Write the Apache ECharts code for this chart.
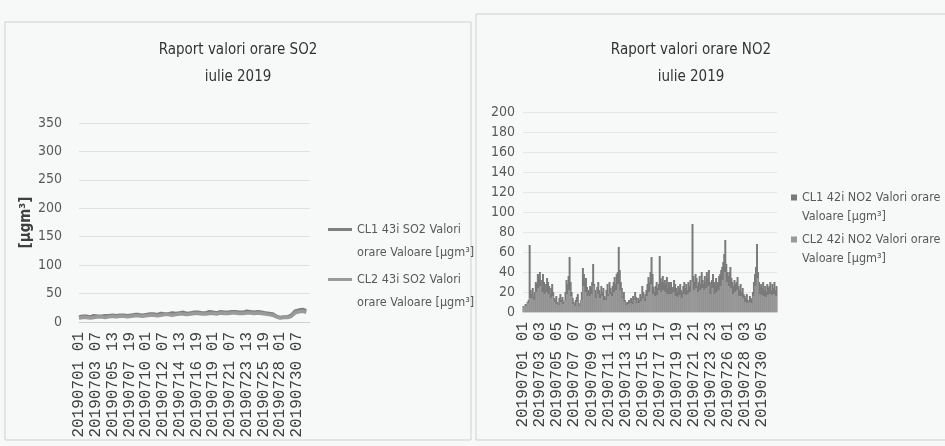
<!DOCTYPE html>
<html>
<head>
<meta charset="utf-8">
<script src="https://cdn.jsdelivr.net/npm/echarts@6/dist/echarts.min.js"></script>
<style>
    html, body { margin: 0; padding: 0; background: #f7f8f8; }
    #main { width: 945px; height: 446px; }
</style>
</head>
<body>
<div id="main"></div>
<script>
// tick labels shown on the two x axes
var so2Ticks = ['20190701 01', '20190703 07', '20190705 13', '20190707 19', '20190710 01', '20190712 07', '20190714 13',
    '20190716 19', '20190719 01', '20190721 07', '20190723 13', '20190725 19', '20190728 01', '20190730 07'];
var no2Ticks = ['20190701 01', '20190703 03', '20190705 05', '20190707 07', '20190709 09', '20190711 11', '20190713 13',
    '20190715 15', '20190717 17', '20190719 19', '20190721 21', '20190723 23', '20190726 01', '20190728 03', '20190730 05'];

// SO2, one value every 12 hours
var so2Cl1 = [9, 10, 10, 9, 11, 10, 10, 11, 11, 12,
    11, 12, 12, 11, 12, 13, 13, 12, 13, 14,
    14, 13, 15, 14, 14, 16, 15, 16, 17, 15,
    16, 17, 17, 16, 16, 18, 17, 16, 18, 17,
    17, 18, 18, 17, 17, 19, 18, 17, 18, 17,
    16, 15, 14, 10, 8, 9, 9, 12, 19, 21, 22, 20];
var so2Cl2 = [7, 8, 8, 7, 8, 9, 9, 8, 9, 10,
    9, 10, 10, 9, 10, 11, 11, 10, 11, 12,
    12, 11, 12, 13, 13, 12, 13, 14, 14, 13,
    14, 15, 15, 14, 14, 15, 15, 14, 16, 15,
    15, 16, 16, 15, 15, 16, 16, 15, 16, 15,
    14, 13, 12, 9, 7, 8, 8, 10, 16, 18, 19, 17];

// NO2 CL1, one value every 3 hours
var no2Cl1 = [
    6, 5, 8, 7, 10, 12, 67, 22,
    18, 24, 15, 20, 30, 28, 38, 36,
    40, 32, 25, 38, 30, 22, 28, 34,
    30, 26, 18, 24, 28, 20, 14, 12,
    16, 10, 8, 14, 18, 12, 15, 10,
    12, 20, 32, 28, 36, 55, 30, 20,
    14, 10, 8, 12, 15, 18, 9, 7,
    12, 20, 44, 38, 30, 34, 25, 22,
    20, 26, 24, 30, 48, 28, 22, 18,
    25, 30, 22, 18, 26, 20, 24, 16,
    14, 22, 28, 18, 30, 24, 20, 26,
    30, 35, 28, 38, 40, 65, 42, 30,
    24, 15, 20, 12, 10, 8, 10, 12,
    12, 14, 10, 16, 12, 20, 15, 10,
    14, 12, 18, 15, 26, 20, 14, 18,
    22, 28, 35, 30, 40, 55, 38, 25,
    20, 26, 30, 24, 28, 56, 34, 30,
    36, 30, 32, 28, 35, 24, 30, 26,
    30, 22, 25, 32, 28, 24, 20, 26,
    24, 28, 22, 20, 26, 30, 24, 28,
    22, 30, 26, 32, 28, 88, 36, 30,
    38, 34, 26, 30, 36, 28, 40, 32,
    28, 36, 30, 40, 34, 42, 30, 24,
    32, 38, 30, 26, 34, 28, 30, 36,
    38, 42, 45, 50, 58, 72, 48, 40,
    36, 40, 45, 34, 30, 26, 32, 28,
    30, 35, 26, 22, 28, 20, 24, 18,
    16, 14, 18, 12, 10, 16, 14, 12,
    20, 30, 38, 45, 68, 40, 30, 25,
    28, 24, 30, 22, 26, 20, 28, 24,
    26, 30, 22, 28, 24, 30, 22, 26];

// NO2 CL2, one value every 6 hours
var no2Cl2 = [
    5, 6, 9, 14, 14, 12, 20, 24, 26, 20, 18, 20, 18, 14, 16, 10,
    8, 7, 10, 8, 12, 18, 22, 16, 8, 6, 10, 6, 12, 26, 20, 16,
    16, 18, 26, 14, 18, 14, 16, 12, 12, 16, 18, 16, 20, 22, 28, 22,
    14, 10, 7, 8, 9, 8, 12, 9, 9, 11, 14, 11, 16, 20, 28, 18,
    16, 17, 22, 20, 22, 20, 18, 18, 18, 20, 16, 15, 17, 14, 18, 17,
    18, 20, 30, 22, 24, 20, 22, 24, 22, 24, 26, 18, 24, 18, 20, 22,
    26, 32, 40, 30, 26, 24, 18, 20, 22, 16, 16, 14, 10, 9, 10, 9,
    16, 26, 34, 18, 17, 16, 15, 17, 18, 17, 18, 16];

var narrow = "'Liberation Sans Narrow', 'DejaVu Sans Condensed', 'Open Sans', sans-serif";
var mono = "'Liberation Mono', 'DejaVu Sans Mono', monospace";

// legend icons sit next to the first of the two text lines
var lineIcon = 'path://M0,10h24v3h-24z M0,0h0.01v0.01h-0.01z M0,46h0.01v0.01h-0.01z';
var squareIcon = 'path://M0,6.5h6v6h-6z M0,0h0.01v0.01h-0.01z M0,38h0.01v0.01h-0.01z';

function pairs(arr, step, offset) {
    return arr.map(function (v, i) { return [i * step + offset, v]; });
}

function tickFormatter(ticks, interval) {
    return function (value) {
        if (value % interval !== 0) return '';
        return ticks[value / interval] || '';
    };
}

var myChart = echarts.init(document.getElementById('main'));
var option = {
    backgroundColor: '#f7f8f8',
    animation: false,
    title: [
        {
            text: 'Raport valori orare SO2\niulie 2019',
            left: 238, top: 37, textAlign: 'center', padding: 0,
            textStyle: {fontFamily: narrow, fontSize: 15, fontWeight: 'normal', color: '#333', lineHeight: 27}
        },
        {
            text: 'Raport valori orare NO2\niulie 2019',
            left: 691, top: 37, textAlign: 'center', padding: 0,
            textStyle: {fontFamily: narrow, fontSize: 15, fontWeight: 'normal', color: '#333', lineHeight: 27}
        }
    ],
    legend: [
        {
            left: 328, top: 218, orient: 'vertical', padding: 0,
            itemWidth: 24, itemHeight: 46, itemGap: 4, icon: lineIcon,
            data: ['CL1 43i SO2 Valori\norare Valoare [µgm³]', 'CL2 43i SO2 Valori\norare Valoare [µgm³]'],
            textStyle: {fontFamily: narrow, fontSize: 12.5, color: '#595959', lineHeight: 23}
        },
        {
            left: 791, top: 188, orient: 'vertical', padding: 0,
            itemWidth: 6, itemHeight: 38, itemGap: 4, icon: squareIcon,
            data: ['CL1 42i NO2 Valori orare\nValoare [µgm³]', 'CL2 42i NO2 Valori orare\nValoare [µgm³]'],
            textStyle: {fontFamily: narrow, fontSize: 12.5, color: '#595959', lineHeight: 19}
        }
    ],
    grid: [
        {left: 79, right: 635, top: 123, bottom: 124},
        {left: 523, right: 168, top: 112, bottom: 134}
    ],
    xAxis: [
        {
            type: 'value', gridIndex: 0,
            min: 0, max: 744, interval: 54,
            splitLine: {show: false},
            axisTick: {show: false},
            axisLine: {show: true, lineStyle: {color: '#d0d0d0'}},
            axisLabel: {
                rotate: 90, margin: 10, showMaxLabel: false,
                fontFamily: mono, fontSize: 16, color: '#404040',
                formatter: tickFormatter(so2Ticks, 54)
            }
        },
        {
            type: 'value', gridIndex: 1,
            min: 0, max: 744, interval: 50,
            splitLine: {show: false},
            axisTick: {show: false},
            axisLine: {show: true, lineStyle: {color: '#d0d0d0'}},
            axisLabel: {
                rotate: 90, margin: 10, showMaxLabel: false,
                fontFamily: mono, fontSize: 16, color: '#404040',
                formatter: tickFormatter(no2Ticks, 50)
            }
        }
    ],
    yAxis: [
        {
            type: 'value', gridIndex: 0,
            min: 0, max: 350, interval: 50,
            name: '[µgm³]', nameLocation: 'middle', nameGap: 39, nameRotate: 90,
            nameTextStyle: {fontFamily: narrow, fontSize: 15, fontWeight: 'bold', color: '#404040'},
            axisLine: {show: false},
            axisTick: {show: false},
            splitLine: {lineStyle: {color: '#e0e0e0'}},
            axisLabel: {margin: 17, fontFamily: narrow, fontSize: 14, color: '#595959'}
        },
        {
            type: 'value', gridIndex: 1,
            min: 0, max: 200, interval: 20,
            axisLine: {show: false},
            axisTick: {show: false},
            splitLine: {lineStyle: {color: '#e6e6e6'}},
            axisLabel: {margin: 8, fontFamily: narrow, fontSize: 14, color: '#595959'}
        }
    ],
    series: [
        {
            name: 'CL1 43i SO2 Valori\norare Valoare [µgm³]',
            type: 'line', xAxisIndex: 0, yAxisIndex: 0,
            symbol: 'none', data: pairs(so2Cl1, 12, 0),
            lineStyle: {color: '#7f7f7f', width: 3.5},
            itemStyle: {color: '#7f7f7f'}
        },
        {
            name: 'CL2 43i SO2 Valori\norare Valoare [µgm³]',
            type: 'line', xAxisIndex: 0, yAxisIndex: 0,
            symbol: 'none', data: pairs(so2Cl2, 12, 0),
            lineStyle: {color: '#9a9a9a', width: 3.5},
            itemStyle: {color: '#9a9a9a'}
        },
        {
            name: 'CL1 42i NO2 Valori orare\nValoare [µgm³]',
            type: 'bar', xAxisIndex: 1, yAxisIndex: 1,
            barWidth: 2, barGap: '-100%',
            data: pairs(no2Cl1, 3, 1.5),
            itemStyle: {color: '#7a7a7a'}
        },
        {
            name: 'CL2 42i NO2 Valori orare\nValoare [µgm³]',
            type: 'bar', xAxisIndex: 1, yAxisIndex: 1,
            barWidth: 2, barGap: '-100%',
            data: pairs(no2Cl2, 6, 3),
            itemStyle: {color: '#999999'}
        }
    ],
    graphic: [
        {type: 'rect', shape: {x: 5, y: 22, width: 466, height: 418}, style: {fill: 'none', stroke: '#cfcfcf', lineWidth: 1}},
        {type: 'rect', shape: {x: 476, y: 14, width: 475, height: 426}, style: {fill: 'none', stroke: '#cfcfcf', lineWidth: 1}}
    ]
};
myChart.setOption(option);
</script>
</body>
</html>
